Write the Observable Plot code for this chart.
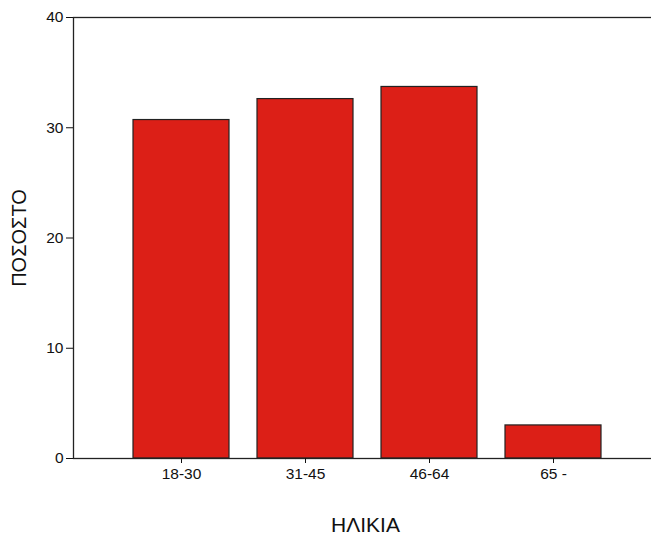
<!DOCTYPE html>
<html>
<head>
<meta charset="utf-8">
<script src="https://cdn.jsdelivr.net/npm/d3@7"></script>
<script src="https://cdn.jsdelivr.net/npm/@observablehq/plot@0.6"></script>
<style>
  html, body { margin: 0; padding: 0; background: #fff; overflow: hidden; }
  svg { display: block; }
</style>
</head>
<body>
<div id="chart"></div>
<script>
const categories = ["18-30", "31-45", "46-64", "65 -"];
const values = [30.7, 32.6, 33.7, 3.0];
const yTicks = [0, 10, 20, 30, 40];
const xTitle = "ΗΛΙΚΙΑ";
const yTitle = "ΠΟΣΟΣΤΟ";

const data = categories.map((c, i) => ({ age: c, pct: values[i] }));

const chart = Plot.plot({
  width: 651,
  height: 536,
  marginLeft: 73,
  marginRight: -9,
  marginTop: 17,
  marginBottom: 78,
  style: { fontFamily: "Liberation Sans, Arial, sans-serif", fontSize: "15.5px", color: "#111", background: "#fff" },
  x: { domain: categories, range: [72.3, 660.5], paddingInner: 0.228, paddingOuter: 0.48, label: null },
  y: { domain: [0, 40], label: null },
  marks: [
    Plot.barY(data, { x: "age", y: "pct", fill: "#dc1f17", stroke: "#222", strokeWidth: 1.2 }),
    Plot.frame({ stroke: "#222", strokeWidth: 1.3 }),
    Plot.axisY({ ticks: yTicks, tickSize: 7, tickPadding: 3, label: null }),
    Plot.axisX({ tickSize: 5, tickPadding: 4, label: null }),
    Plot.text([xTitle], { frameAnchor: "bottom", dy: 73, dx: -1.5, fontSize: 21, text: d => d }),
    Plot.text([yTitle], { frameAnchor: "left", textAnchor: "middle", dx: -54, rotate: -90, fontSize: 20, text: d => d })
  ]
});
document.getElementById("chart").appendChild(chart);
</script>
</body>
</html>
